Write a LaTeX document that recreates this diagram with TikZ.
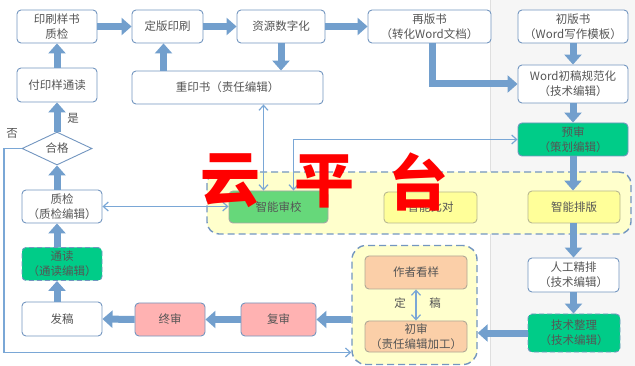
\documentclass[tikz,border=0pt]{standalone}
\usepackage{fontspec}
\newfontfamily\cjk{Noto Sans CJK SC}
\usetikzlibrary{shapes.geometric,arrows.meta,calc}
\definecolor{bcol}{RGB}{115,150,192}
\definecolor{arrcol}{RGB}{114,159,205}
\definecolor{thincol}{RGB}{122,167,214}
\definecolor{txtcol}{RGB}{85,85,85}
\definecolor{gstrong}{RGB}{0,204,136}
\definecolor{glight}{RGB}{102,216,122}
\definecolor{ylight}{RGB}{255,255,204}
\definecolor{ybox}{RGB}{255,255,153}
\definecolor{yborder}{RGB}{184,184,144}
\definecolor{pinkfill}{RGB}{255,178,178}
\definecolor{peach}{RGB}{251,207,168}
\definecolor{peachborder}{RGB}{176,168,150}
\definecolor{rightbg}{RGB}{246,246,246}
\begin{document}
\begin{tikzpicture}[x=1pt,y=-1pt,
  base/.style={font=\cjk\fontsize{11.5}{15}\selectfont, text=txtcol, align=center, inner sep=0pt},
  box/.style={base, draw=bcol, line width=0.9pt, rounded corners=4pt, fill=white},
  greenbox/.style={box, fill=gstrong},
  dashbox/.style={box, fill=gstrong, dashed, dash pattern=on 5pt off 3pt},
  pinkbox/.style={box, fill=pinkfill},
  ybx/.style={box, fill=ybox, draw=yborder},
  peachbox/.style={box, fill=peach, draw=peachborder},
  group/.style={draw=bcol, line width=1.4pt, dash pattern=on 7pt off 4pt, fill=ylight, rounded corners=12pt, inner sep=0pt},
  bigarrow/.style={draw=arrcol, line width=7pt, line join=miter, -{Triangle[width=17pt,length=10pt]}},
  thin/.style={draw=thincol, line width=1.2pt, -{Straight Barb[length=5pt,width=9pt]}},
  thinboth/.style={draw=thincol, line width=1.2pt, {Straight Barb[length=5pt,width=9pt]}-{Straight Barb[length=5pt,width=9pt]}},
  lbl/.style={base},
  bigred/.style={font=\cjk\bfseries\fontsize{60}{60}\selectfont, text=red, inner sep=0pt}
]
\useasboundingbox (0,0) rectangle (635,366);
\fill[rightbg] (490,0) rectangle (635,366);
\draw[gray!25, line width=0.6pt] (490,0) -- (490,366);

% groups
\node[group, minimum width=424pt, minimum height=62pt] (cloud) at (419,203) {};
\node[group, minimum width=125pt, minimum height=119pt, rounded corners=14pt] (grp) at (414.5,305) {};

% top row
\node[box, minimum width=80pt, minimum height=33pt] (yinshua) at (57,26.5) {印刷样书\\质检};
\node[box, minimum width=71pt, minimum height=33pt] (dingban) at (167.5,26.5) {定版印刷};
\node[box, minimum width=88pt, minimum height=33pt] (ziyuan) at (281,26.5) {资源数字化};
\node[box, minimum width=123pt, minimum height=33pt] (zaiban) at (429.5,26.5) {再版书\\（转化Word文档）};
\node[box, minimum width=110pt, minimum height=33pt] (chuban) at (573,26.5) {初版书\\（Word写作模板）};

\node[box, minimum width=80pt, minimum height=34pt] (fuyin) at (57,85) {付印样通读};
\node[box, minimum width=191pt, minimum height=33pt] (chongyin) at (227.5,87.5) {重印书（责任编辑）};
\node[box, minimum width=110pt, minimum height=38pt] (wordgf) at (573,84) {Word初稿规范化\\（技术编辑）};
\node[greenbox, minimum width=110pt, minimum height=33pt] (yushen) at (573,139.5) {预审\\（策划编辑）};

\node[base, diamond, draw=bcol, line width=0.9pt, fill=white, minimum width=70pt, minimum height=33pt, shape aspect=2.1] (hege) at (57,148.5) {合格};

\node[box, minimum width=80pt, minimum height=33pt] (zhijian) at (62,206.5) {质检\\（质检编辑）};
\node[dashbox, minimum width=80pt, minimum height=33pt] (tongdu) at (62,264) {通读\\（通读编辑）};
\node[box, minimum width=80pt, minimum height=34pt] (fagao) at (62,319) {发稿};
\node[pinkbox, minimum width=70pt, minimum height=33pt] (zhongshen) at (170,319.5) {终审};
\node[pinkbox, minimum width=75pt, minimum height=33pt] (fushen) at (278.5,319.5) {复审};

% cloud platform boxes
\node[box, fill=glight, draw=gray!70, minimum width=99pt, minimum height=32pt] (shenjiao) at (278.5,207) {智能审校};
\node[ybx, minimum width=93pt, minimum height=31pt] (bidui) at (430.5,207.5) {智能比对};
\node[ybx, minimum width=92pt, minimum height=32pt] (paiban) at (574,207) {智能排版};

\node[box, minimum width=91pt, minimum height=34pt] (rengong) at (573.5,275) {人工精排\\（技术编辑）};
\node[dashbox, minimum width=92pt, minimum height=38pt] (jishu) at (574,333) {技术整理\\（技术编辑）};

\node[peachbox, minimum width=102pt, minimum height=33pt] (zuozhe) at (416,272.5) {作者看样};
\node[peachbox, minimum width=102pt, minimum height=31pt] (chushen) at (416,336.5) {初审\\（责任编辑加工）};

% thick arrows
\draw[bigarrow] (yinshua.east) -- (dingban.west);
\draw[bigarrow] (dingban.east) -- (ziyuan.west);
\draw[bigarrow] (ziyuan.east) -- (zaiban.west);
\draw[bigarrow] (ziyuan.south) -- (ziyuan.south |- chongyin.north);
\draw[bigarrow] ([xshift=-4pt]dingban.south |- chongyin.north) -- ([xshift=-4pt]dingban.south);
\draw[bigarrow] (fuyin.north) -- (yinshua.south);
\draw[bigarrow] (hege.north) -- (fuyin.south);
\draw[bigarrow] (zhijian.north -| hege.north) -- (hege.south);
\draw[bigarrow] (tongdu.north -| hege.north) -- (zhijian.south -| hege.north);
\draw[bigarrow] (fagao.north -| hege.north) -- (tongdu.south -| hege.north);
\draw[bigarrow] (zhongshen.west) -- (fagao.east);
\draw[bigarrow] (fushen.west) -- (zhongshen.east);
\draw[bigarrow] (grp.west |- fushen.west) -- (fushen.east);
\draw[bigarrow] (jishu.west) -- (jishu.west -| grp.east);
\draw[bigarrow] ([xshift=3pt]zaiban.south) |- (wordgf.west);
\draw[bigarrow] (chuban.south) -- (wordgf.north);
\draw[bigarrow] (wordgf.south) -- (yushen.north);
\draw[bigarrow] (yushen.south) -- (paiban.north -| yushen.south);
\draw[bigarrow] (paiban.south -| rengong.north) -- (rengong.north);
\draw[bigarrow] (rengong.south) -- (jishu.north -| rengong.south);

% thin arrows
\draw[thinboth] (zhijian.east) -- (shenjiao.west |- zhijian.east);
\draw[thinboth] ([xshift=-15pt]shenjiao.north |- chongyin.south) -- ([xshift=-15pt]shenjiao.north);
\draw[thinboth] (yushen.west) -| ([xshift=15pt]shenjiao.north);
\coordinate (notop) at (4,148.5);
\draw[thin] (hege.west) -- (notop) |- (grp.west |- chushen.south);
\draw[thinboth] (zuozhe.south) -- (chushen.north);

% labels
\node[lbl] (shi) at (73,118) {是};
\node[lbl] (fou) at (12,133) {否};
\node[lbl] (ding) at (400,303) {定};
\node[lbl] (gao) at (435,303) {稿};

% big red text
\node[bigred] (yun) at (230,181) {云};
\node[bigred] (ping) at (324,181) {平};
\node[bigred] (tai) at (418,182) {台};
\end{tikzpicture}
\end{document}
